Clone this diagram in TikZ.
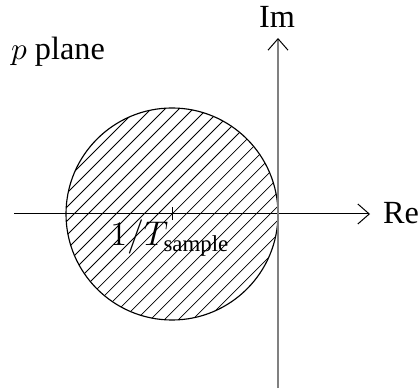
\documentclass[tikz,border=0pt]{standalone}
\usepackage{amsmath}
\usepackage{fontspec}
\setmainfont{Liberation Serif}
\usetikzlibrary{arrows.meta}

\begin{document}
\begin{tikzpicture}[x=0.35pt,y=0.35pt]
\useasboundingbox (0,0) rectangle (419,390);
% Hatched disc
\begin{scope}
\clip (172,176) circle (106);
\foreach \k in {-20,...,20}
  \draw[line width=0.25pt] (172+\k*14-130,176-130) -- ++(260,260);
\end{scope}
\draw[line width=0.4pt] (172,176) circle (106);
% Axes
\coordinate (reL) at (14,176);
\coordinate (reR) at (370,176);
\coordinate (imB) at (278,2);
\coordinate (imT) at (278,352);
\draw[line width=0.35pt, -{Straight Barb[length=4pt,width=7pt,line width=0.35pt]}] (reL) -- (reR);
\draw[line width=0.55pt, gray, -{Straight Barb[length=4pt,width=7pt,line width=0.35pt,color=black]}] (imB) -- (imT);
% Tick at 1/T
\coordinate (tickB) at (172,170);
\coordinate (tickT) at (172,183);
\draw[line width=0.35pt] (tickB) -- (tickT);
% Labels
\node[anchor=base, font=\fontsize{11.3}{14}\selectfont] (re) at (401,166) {Re};
\node[anchor=base, font=\fontsize{11.3}{14}\selectfont] (im) at (277,362) {Im};
\node[anchor=base, font=\fontsize{11.3}{14}\selectfont] (plane) at (58,330) {$p$ plane};
\node[anchor=base, font=\fontsize{12}{14}\selectfont] (tsample) at (170,144) {$1/T_{\text{sample}}$};
\end{tikzpicture}
\end{document}
